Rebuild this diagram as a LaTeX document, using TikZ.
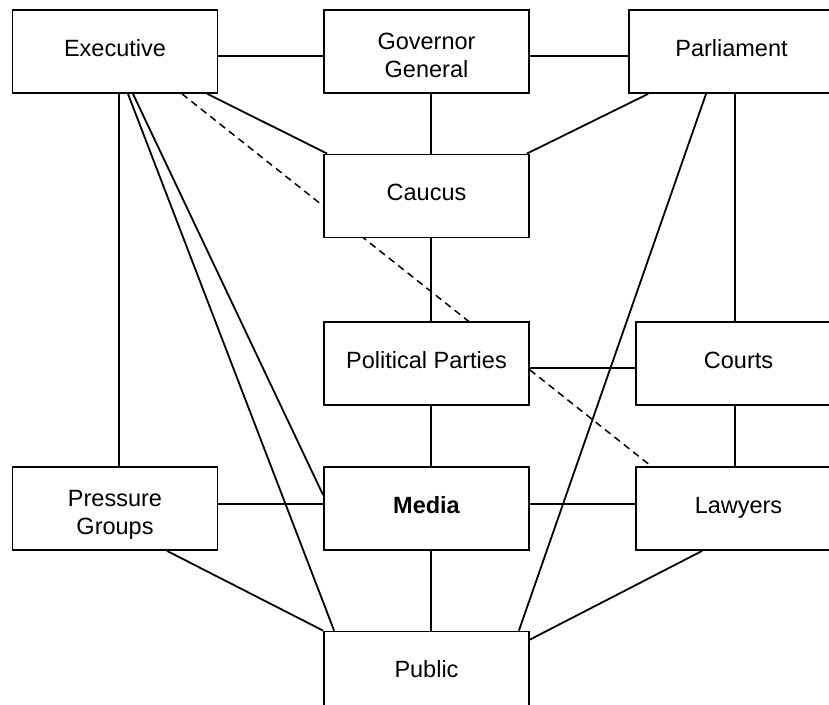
\documentclass[tikz,border=0pt]{standalone}
\usepackage{fontspec}
\setmainfont{Liberation Sans}
\usetikzlibrary{backgrounds}

\begin{document}
\begin{tikzpicture}[x=1pt,y=-1pt,
  box/.style={draw=black, fill=white, line width=1.8pt,
    minimum width=205pt, minimum height=83pt, inner sep=0pt,
    align=center, font=\fontsize{23.5}{27.5}\selectfont},
  oneline/.style={text height=16.8pt, text depth=7pt},
  twoline/.style={text height=51pt, text depth=0pt},
  link/.style={line width=1.8pt},
  hint/.style={line width=1.5pt, dash pattern=on 7pt off 5pt}]
\useasboundingbox (0,0) rectangle (829,704);
\clip (0,0) rectangle (829,704);

% institutions
\node[box,oneline] (exec)    at (115,51.5)    {Executive};
\node[box,twoline] (gg)      at (426.5,51.5)  {Governor\\General};
\node[box,oneline] (parl)    at (731.5,51.5)  {Parliament};
\node[box,oneline] (caucus)  at (426.5,196)   {Caucus};
\node[box,oneline] (pp)      at (426.5,363.5) {Political Parties};
\node[box,oneline] (courts)  at (738.5,363.5) {Courts};
\node[box,twoline] (pg)      at (115,508.5)   {Pressure\\Groups};
\node[box,oneline,font=\fontsize{23.5}{27.5}\selectfont\bfseries]
                   (media)   at (426.5,508.5) {Media};
\node[box,oneline] (lawyers) at (738.5,508.5) {Lawyers};
\node[box,oneline] (public)  at (426.5,673)   {Public};

% relations, kept behind the boxes
\begin{scope}[on background layer]
\draw[link] ([yshift=-4.5pt]exec.east) -- ([yshift=-4.5pt]gg.west);
\draw[link] ([yshift=-4.5pt]gg.east) -- ([yshift=-4.5pt]parl.west);
\draw[link] ([xshift=-11pt]exec.south east) -- ([xshift=4pt]caucus.north west);
\draw[link] ([xshift=20pt]parl.south west) -- ([xshift=-3pt]caucus.north east);
\draw[link] ([xshift=4.5pt]gg.south) -- ([xshift=4.5pt]caucus.north);
\draw[link] ([xshift=4.5pt]caucus.south) -- ([xshift=4.5pt]pp.north);
\draw[link] ([xshift=4.5pt]pp.south) -- ([xshift=4.5pt]media.north);
\draw[link] ([xshift=4.5pt]media.south) -- ([xshift=4.5pt]public.north);
\draw[link] ([yshift=-4.5pt]pp.east) -- ([yshift=-4.5pt]courts.west);
\draw[link] ([xshift=3.5pt]parl.south) -- ([xshift=-3.5pt]courts.north);
\draw[link] ([xshift=-3.5pt]courts.south) -- ([xshift=-3.5pt]lawyers.north);
\draw[link] ([xshift=4pt]exec.south) -- ([xshift=4pt]pg.north);
\draw[link] ([yshift=4.5pt]pg.east) -- ([yshift=4.5pt]media.west);
\draw[link] ([yshift=4.5pt]media.east) -- ([yshift=4.5pt]lawyers.west);
\draw[link] ([xshift=18pt]exec.south) -- ([yshift=13.5pt]media.west);
\draw[link] ([xshift=13pt]exec.south) -- ([xshift=11pt]public.north west);
\draw[link] ([xshift=-25.5pt]parl.south) -- ([xshift=-11pt]public.north east);
\draw[link] ([xshift=52pt]pg.south) -- (public.north west);
\draw[link] ([xshift=67pt]lawyers.south west) -- ([yshift=-9pt]public.north east);
\draw[hint] ([xshift=67pt]exec.south) -- ([xshift=16pt]lawyers.north west);
\end{scope}
\end{tikzpicture}
\end{document}
